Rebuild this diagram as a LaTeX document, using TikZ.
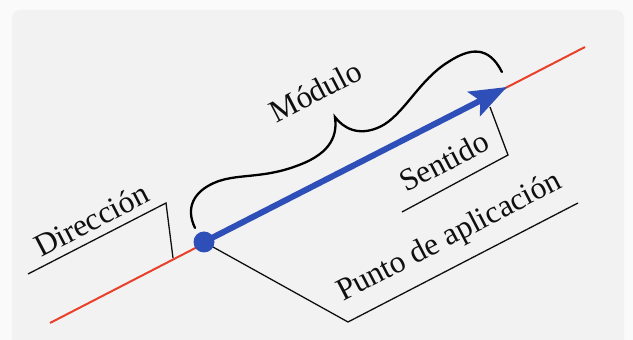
\documentclass[tikz,border=0pt]{standalone}
\usepackage{fontspec}
\setmainfont{Liberation Serif}
\usetikzlibrary{arrows.meta}
\definecolor{bgpanel}{RGB}{242,242,242}
\definecolor{bgouter}{RGB}{250,250,250}
\definecolor{vecblue}{RGB}{46,78,184}
\definecolor{linered}{RGB}{232,64,42}
\definecolor{ink}{RGB}{15,15,15}
\tikzset{
  lbl/.style={inner sep=0pt, font=\fontsize{31.5}{32}\selectfont, text=ink, rotate=27.5, anchor=base west},
  leader/.style={draw=ink, line width=1.3pt, line join=miter},
  bracestyle/.style={draw=black, line width=2.3pt, line cap=round},
}
\begin{document}
\begin{tikzpicture}[x=1pt,y=1pt]
\useasboundingbox (0,0) rectangle (633,340);
\fill[bgouter] (0,0) rectangle (633,340);
\fill[bgpanel, rounded corners=8pt] (12,-10) rectangle (624,330);

% direction line
\coordinate (r0) at (50,17);
\coordinate (r1) at (585,293);
\draw[linered, line width=2pt] (r0) -- (r1);

% point of application and tip
\coordinate (p) at (204,98);
\coordinate (tip) at (507,253);

% leaders
\coordinate (d0) at (28,66);
\coordinate (d1) at (166,137);
\coordinate (d2) at (173,82);
\draw[leader] (d0) -- (d1) -- (d2);

\coordinate (s0) at (490,233);
\coordinate (s1) at (508,185);
\coordinate (s2) at (402,128);
\draw[leader] (s0) -- (s1) -- (s2);

\coordinate (a1) at (348,18);
\coordinate (a2) at (578,137);
\draw[leader] (p) -- (a1) -- (a2);

% vector
\draw[vecblue, line width=6pt, -{Stealth[length=37pt, width=27pt, inset=7pt]}] (p) -- (tip);
\fill[vecblue] (p) circle (10.5);
\node[draw=none, inner sep=0pt, minimum size=0pt] (dot) at (p) {};

% brace
\begin{scope}[shift={(p)}, rotate=27.2]
\draw[bracestyle]
  (-1.6,16.6) .. controls (-1,40) and (15,49) .. (35,48)
  .. controls (60,47) and (80,29) .. (120,25)
  .. controls (155,21) and (168,35) .. (173.6,51.3)
  .. controls (176,38) and (185,23) .. (209,22)
  .. controls (235,21) and (265,46) .. (300,48.5)
  .. controls (325,51) and (343,45) .. (342.7,15);
\end{scope}

% labels
\node[lbl] (dir) at (41,82) {Dirección};
\node[lbl] (mod) at (276,216) {Módulo};
\node[lbl] (sen) at (406,147) {Sentido};
\node[lbl] (pun) at (343,38) {Punto de aplicación};
\end{tikzpicture}
\end{document}
